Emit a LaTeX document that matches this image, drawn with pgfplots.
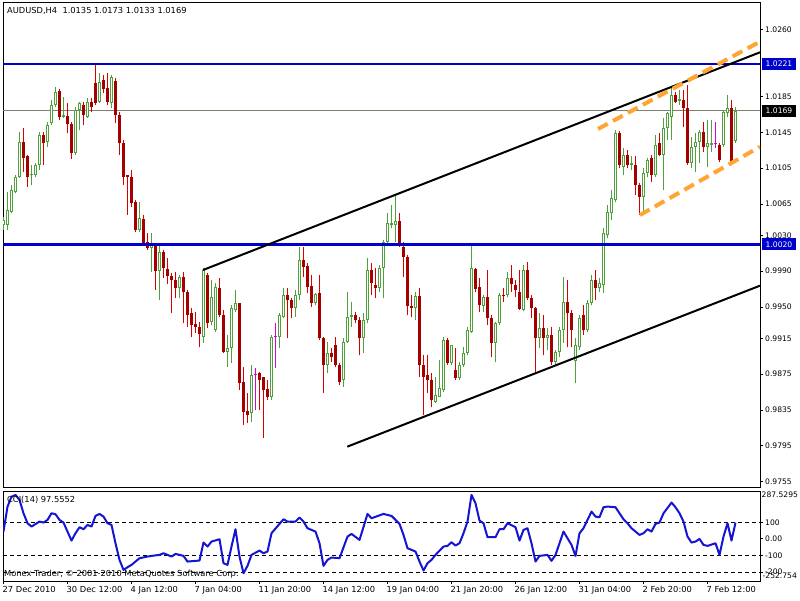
\documentclass[border=0pt]{standalone}
\usepackage{pgfplots}
\pgfplotsset{compat=1.18}
\usepackage{pgfplotstable}
\usepackage{fontspec}
\setmainfont{DejaVu Sans}

\definecolor{bullg}{RGB}{80,160,60}
\definecolor{bearw}{RGB}{215,0,0}
\definecolor{bearb}{RGB}{165,0,0}
\definecolor{dojim}{RGB}{220,0,220}
\definecolor{lvlblue}{RGB}{0,0,205}
\definecolor{bidgray}{RGB}{128,128,112}
\definecolor{chorange}{RGB}{255,165,50}
\definecolor{cciblue}{RGB}{20,20,210}

\newcommand{\pricefont}{\fontsize{7.6}{9}\selectfont}
\newcommand{\labfont}{\fontsize{8.3}{10}\selectfont}

% H4 bars, k = bar number (bars are 4 px apart), o h l c = open high low close
\pgfplotstableread{
k o h l c
0 1.0042 1.0050 1.0036 1.0047
1 1.0042 1.0078 1.0036 1.0058
2 1.0056 1.0086 1.0055 1.0081
3 1.0078 1.0097 1.0077 1.0095
4 1.0095 1.0145 1.0094 1.0134
7 1.0097 1.0109 1.0086 1.0098
8 1.0097 1.0111 1.0095 1.0109
9 1.0109 1.0145 1.0103 1.0142
11 1.0134 1.0157 1.0129 1.0153
12 1.0155 1.0181 1.0153 1.0176
13 1.0176 1.0196 1.0173 1.0190
15 1.0162 1.0184 1.0161 1.0164
18 1.0122 1.0173 1.0120 1.0170
19 1.0170 1.0179 1.0148 1.0178
21 1.0162 1.0183 1.0161 1.0179
24 1.0179 1.0211 1.0178 1.0201
27 1.0178 1.0209 1.0172 1.0207
34 1.0036 1.0067 1.0034 1.0049
37 1.0016 1.0033 0.9989 1.0021
39 0.9990 1.0019 0.9958 1.0011
44 0.9971 0.9986 0.9960 0.9983
50 0.9917 0.9994 0.9910 0.9991
52 0.9933 0.9980 0.9930 0.9961
53 0.9924 0.9977 0.9922 0.9972
56 0.9900 0.9919 0.9883 0.9904
57 0.9904 0.9952 0.9888 0.9949
58 0.9947 0.9969 0.9944 0.9955
62 0.9832 0.9885 0.9822 0.9874
67 0.9850 0.9919 0.9846 0.9917
69 0.9917 0.9943 0.9904 0.9941
70 0.9939 0.9971 0.9938 0.9963
73 0.9949 0.9969 0.9939 0.9963
74 0.9963 1.0017 0.9958 1.0002
78 0.9955 0.9966 0.9952 0.9965
81 0.9885 0.9911 0.9876 0.9899
85 0.9869 0.9915 0.9861 0.9911
86 0.9911 0.9967 0.9910 0.9939
87 0.9939 0.9956 0.9928 0.9941
90 0.9915 0.9943 0.9899 0.9936
91 0.9936 1.0005 0.9932 0.9991
94 0.9971 0.9997 0.9967 0.9994
95 0.9994 1.0025 0.9960 1.0023
96 1.0023 1.0055 1.0019 1.0044
97 1.0042 1.0064 1.0038 1.0044
98 1.0042 1.0075 1.0023 1.0046
103 0.9949 0.9967 0.9936 0.9962
108 0.9844 0.9872 0.9843 0.9852
109 0.9850 0.9891 0.9849 0.9860
110 0.9857 0.9917 0.9855 0.9913
112 0.9888 0.9908 0.9885 0.9908
114 0.9871 0.9889 0.9869 0.9885
115 0.9885 0.9905 0.9883 0.9899
116 0.9899 0.9928 0.9896 0.9924
117 0.9922 1.0021 0.9921 0.9994
120 0.9951 0.9963 0.9944 0.9961
123 0.9910 0.9933 0.9889 0.9932
124 0.9932 0.9966 0.9930 0.9963
126 0.9963 0.9989 0.9961 0.9982
130 0.9947 0.9997 0.9945 0.9991
134 0.9915 0.9943 0.9904 0.9926
136 0.9915 0.9926 0.9902 0.9919
138 0.9889 0.9902 0.9885 0.9900
139 0.9900 0.9928 0.9894 0.9924
140 0.9924 0.9983 0.9910 0.9956
143 0.9890 0.9915 0.9865 0.9908
144 0.9905 0.9941 0.9902 0.9938
146 0.9924 0.9958 0.9922 0.9955
147 0.9955 0.9986 0.9952 0.9980
149 0.9971 0.9982 0.9967 0.9977
150 0.9975 1.0038 0.9966 1.0033
151 1.0030 1.0064 1.0027 1.0056
152 1.0055 1.0081 1.0047 1.0072
153 1.0069 1.0148 1.0067 1.0144
155 1.0106 1.0128 1.0097 1.0120
157 1.0109 1.0118 1.0103 1.0111
160 1.0073 1.0105 1.0056 1.0100
161 1.0100 1.0116 1.0095 1.0114
163 1.0097 1.0142 1.0095 1.0131
165 1.0120 1.0161 1.0081 1.0150
166 1.0150 1.0168 1.0136 1.0167
167 1.0162 1.0194 1.0136 1.0187
169 1.0180 1.0192 1.0176 1.0182
172 1.0111 1.0140 1.0105 1.0129
173 1.0129 1.0144 1.0101 1.0134
174 1.0134 1.0148 1.0111 1.0145
176 1.0129 1.0159 1.0106 1.0133
177 1.0131 1.0159 1.0123 1.0133
180 1.0131 1.0170 1.0129 1.0168
181 1.0167 1.0187 1.0162 1.0172
183 1.0135 1.0173 1.0133 1.0169
}\bull

\pgfplotstableread{
k o h l c
5 1.0134 1.0150 1.0101 1.0116
6 1.0118 1.0120 1.0084 1.0095
10 1.0142 1.0145 1.0109 1.0133
14 1.0191 1.0193 1.0159 1.0162
16 1.0163 1.0178 1.0144 1.0154
17 1.0154 1.0157 1.0115 1.0122
20 1.0176 1.0179 1.0153 1.0164
22 1.0179 1.0183 1.0168 1.0173
23 1.0200 1.0221 1.0176 1.0178
25 1.0203 1.0209 1.0189 1.0193
26 1.0195 1.0211 1.0176 1.0179
28 1.0202 1.0206 1.0155 1.0164
29 1.0164 1.0168 1.0120 1.0133
30 1.0133 1.0136 1.0086 1.0095
31 1.0097 1.0097 1.0053 1.0095
32 1.0095 1.0103 1.0062 1.0066
33 1.0067 1.0069 1.0034 1.0036
35 1.0048 1.0053 1.0019 1.0021
36 1.0023 1.0033 1.0014 1.0016
38 1.0019 1.0021 0.9969 0.9990
40 1.0011 1.0014 0.9982 0.9994
41 0.9992 1.0005 0.9976 0.9985
42 0.9985 0.9988 0.9943 0.9980
43 0.9980 0.9989 0.9960 0.9971
45 0.9983 0.9989 0.9932 0.9967
46 0.9967 0.9969 0.9928 0.9941
47 0.9943 0.9949 0.9917 0.9930
48 0.9931 0.9944 0.9921 0.9928
49 0.9928 0.9933 0.9905 0.9920
51 0.9986 0.9988 0.9927 0.9932
54 0.9971 0.9982 0.9939 0.9941
55 0.9941 0.9947 0.9899 0.9900
59 0.9955 0.9955 0.9857 0.9865
60 0.9866 0.9883 0.9818 0.9833
61 0.9834 0.9854 0.9821 0.9829
64 0.9876 0.9877 0.9835 0.9869
65 0.9872 0.9872 0.9804 0.9857
66 0.9858 0.9869 0.9846 0.9850
71 0.9963 0.9971 0.9915 0.9958
72 0.9958 0.9960 0.9938 0.9949
75 1.0002 1.0017 0.9984 0.9995
76 0.9996 0.9999 0.9966 0.9972
77 0.9973 0.9986 0.9950 0.9955
79 0.9966 0.9986 0.9913 0.9915
80 0.9915 0.9917 0.9854 0.9885
82 0.9899 0.9904 0.9889 0.9894
83 0.9908 0.9917 0.9883 0.9885
84 0.9885 0.9888 0.9863 0.9866
88 0.9941 0.9944 0.9932 0.9936
89 0.9936 0.9939 0.9896 0.9915
92 0.9991 0.9999 0.9963 0.9977
93 0.9975 0.9994 0.9960 0.9971
99 1.0046 1.0055 1.0017 1.0019
100 1.0017 1.0023 0.9984 1.0006
101 1.0006 1.0008 0.9941 0.9951
102 0.9951 0.9963 0.9939 0.9949
104 0.9962 0.9971 0.9872 0.9885
105 0.9885 0.9896 0.9829 0.9872
106 0.9874 0.9896 0.9854 0.9869
107 0.9869 0.9876 0.9838 0.9846
111 0.9913 0.9915 0.9885 0.9888
113 0.9880 0.9904 0.9869 0.9871
118 0.9992 0.9994 0.9967 0.9970
119 0.9972 0.9982 0.9944 0.9952
121 0.9961 0.9991 0.9930 0.9938
122 0.9938 0.9941 0.9894 0.9910
125 0.9963 0.9971 0.9956 0.9962
127 0.9982 0.9997 0.9967 0.9976
128 0.9975 0.9980 0.9961 0.9969
129 0.9967 0.9991 0.9947 0.9948
131 0.9991 1.0000 0.9958 0.9960
132 0.9960 0.9963 0.9938 0.9949
133 0.9949 0.9950 0.9876 0.9915
135 0.9926 0.9941 0.9896 0.9915
137 0.9919 0.9928 0.9885 0.9889
141 0.9956 0.9980 0.9905 0.9943
142 0.9943 0.9947 0.9905 0.9924
145 0.9941 0.9952 0.9919 0.9924
148 0.9980 0.9991 0.9958 0.9971
154 1.0144 1.0146 1.0105 1.0109
156 1.0120 1.0125 1.0105 1.0109
158 1.0109 1.0118 1.0075 1.0086
159 1.0086 1.0088 1.0053 1.0073
162 1.0116 1.0120 1.0089 1.0097
164 1.0133 1.0144 1.0118 1.0120
168 1.0187 1.0190 1.0178 1.0179
170 1.0181 1.0192 1.0151 1.0172
171 1.0172 1.0198 1.0109 1.0111
175 1.0145 1.0157 1.0123 1.0129
179 1.0131 1.0133 1.0112 1.0114
182 1.0172 1.0181 1.0111 1.0112
}\bear

\pgfplotstableread{
k o h l c
63 0.9875 0.9882 0.9835 0.9875
68 0.9917 0.9932 0.9882 0.9917
178 1.0133 1.0157 1.0128 1.0133
}\doji

\pgfplotsset{
  nomark/.style={only marks, mark size=0pt, mark options={draw=none, fill=none}, forget plot},
  vbar/.style 2 args={nomark,
    error bars/y dir=plus, error bars/y explicit, error bars/error mark=none,
    error bars/error bar style={line width=#2, draw=#1, solid}},
}

\begin{document}
\begin{tikzpicture}
\fill[white, use as bounding box] (0,0) rectangle (800pt,600pt);

% ---------- price panel ----------
\begin{axis}[at={(3pt,113pt)}, anchor=south west,
  scale only axis, width=757pt, height=484pt,
  xmin=-0.125, xmax=189.125, ymin=0.974906, ymax=1.028936,
  axis line style={line width=1pt, black},
  xtick=\empty,
  ytick pos=right, yticklabel pos=right, tick align=outside,
  major tick length=3pt, tick style={black, line width=0.8pt},
  ytick={0.9755,0.9795,0.9835,0.9875,0.9915,0.9950,0.9990,1.0030,1.0065,1.0105,1.0145,1.0185,1.0260},
  yticklabels={0.9755,0.9795,0.9835,0.9875,0.9915,0.9950,0.9990,1.0030,1.0065,1.0105,1.0145,1.0185,1.0260},
  yticklabel style={font=\pricefont, inner sep=1pt, xshift=1pt},
  clip mode=individual,
]
% bid line
\addplot[bidgray, line width=1pt] coordinates {(-0.125,1.0169) (189.125,1.0169)};

% bull candles: wick, green body, white inside
\addplot[vbar={bullg}{1pt}] table[x=k, y=l, y error plus expr=\thisrow{h}-\thisrow{l}] {\bull};
\addplot[vbar={bullg}{3pt}] table[x=k, y=o, y error plus expr=\thisrow{c}-\thisrow{o}] {\bull};
\addplot[vbar={white}{1pt}] table[x=k, y expr=\thisrow{o}+0.000112, y error plus expr={max(0,\thisrow{c}-\thisrow{o}-0.000224)}] {\bull};

% bear candles
\addplot[vbar={bearw}{1pt}] table[x=k, y=l, y error plus expr=\thisrow{h}-\thisrow{l}] {\bear};
\addplot[vbar={bearb}{3pt}] table[x=k, y=c, y error plus expr=\thisrow{o}-\thisrow{c}] {\bear};

% doji
\addplot[vbar={dojim}{1pt}] table[x=k, y=l, y error plus expr=\thisrow{h}-\thisrow{l}] {\doji};
\addplot[nomark,
  error bars/x dir=both, error bars/x explicit, error bars/error mark=none,
  error bars/error bar style={line width=1pt, draw=dojim}]
  table[x=k, y=o, x error expr=0.4] {\doji};

% horizontal levels
\addplot[lvlblue, line width=2.5pt] coordinates {(-0.125,1.0221) (189.125,1.0221)};
\addplot[lvlblue, line width=2.5pt] coordinates {(-0.125,1.0020) (189.125,1.0020)};

% trend channel
\addplot[black, line width=2pt] coordinates {(49.875,0.99913) (189.125,1.02343)};
\addplot[black, line width=2pt] coordinates {(85.95,0.97941) (189.125,0.99738)};
\addplot[chorange, line width=4pt, dash pattern=on 11pt off 6pt] coordinates {(148.625,1.01487) (189.125,1.02462)};
\addplot[chorange, line width=4pt, dash pattern=on 11pt off 6pt] coordinates {(159.125,1.00527) (189.125,1.01289)};

% price boxes on the scale
\node[fill=lvlblue, text=white, anchor=west, inner xsep=4pt, inner ysep=0pt, minimum height=12pt, font=\pricefont, xshift=1.5pt]
  at (axis cs:189.125,1.0221) {1.0221};
\node[fill=lvlblue, text=white, anchor=west, inner xsep=4pt, inner ysep=0pt, minimum height=12pt, font=\pricefont, xshift=1.5pt]
  at (axis cs:189.125,1.0020) {1.0020};
\node[fill=black, text=white, anchor=west, inner xsep=4pt, inner ysep=0pt, minimum height=12pt, font=\pricefont, xshift=1.5pt]
  at (axis cs:189.125,1.0169) {1.0169};
\end{axis}

% ---------- CCI panel ----------
\begin{axis}[at={(3pt,19pt)}, anchor=south west,
  scale only axis, width=757pt, height=90pt,
  xmin=-0.125, xmax=189.125, ymin=-252.754, ymax=287.5295,
  axis line style={line width=1pt, black},
  xtick={0,16,32,48,64,80,96,112,128,144,160,176},
  xticklabels={27 Dec 2010,30 Dec 12:00,4 Jan 12:00,7 Jan 04:00,11 Jan 20:00,14 Jan 12:00,19 Jan 04:00,21 Jan 20:00,26 Jan 12:00,31 Jan 04:00,2 Feb 20:00,7 Feb 12:00},
  xtick pos=bottom, xticklabel pos=bottom,
  xticklabel style={font=\labfont, anchor=north west, xshift=-2pt, yshift=-1pt, inner sep=1pt},
  ytick pos=right, yticklabel pos=right, tick align=outside,
  major tick length=3pt, tick style={black, line width=0.8pt},
  ytick={-200,-100,0,100}, yticklabels={-200,-100,0.00,100},
  yticklabel style={font=\pricefont, inner sep=1pt, xshift=1pt},
  clip mode=individual,
]
\addplot[black, line width=0.8pt, dash pattern=on 4pt off 3pt] coordinates {(-0.125,100) (189.125,100)};
\addplot[black, line width=0.8pt, dash pattern=on 4pt off 3pt] coordinates {(-0.125,-100) (189.125,-100)};
\addplot[black, line width=0.8pt, dash pattern=on 4pt off 3pt] coordinates {(-0.125,-200) (189.125,-200)};

% CCI(14)
\addplot[cciblue, line width=2pt, line join=round] coordinates {
(0,44) (1,193) (2,253) (3,264) (4,234) (5,154) (6,94) (7,74) (9,104) (10,98)
(11,114) (12,154) (13,148) (14,114) (15,98) (17,-10) (18,34) (19,70) (20,58) (21,84)
(22,74) (23,138) (24,150) (25,134) (26,94) (27,84) (28,-26) (29,-126) (30,-186) (31,-170)
(32,-156) (33,-136) (34,-116) (36,-106) (37,-102) (39,-96) (40,-86) (42,-106) (43,-90) (45,-102)
(46,-136) (48,-132) (49,-130) (50,-22) (51,-46) (52,-16) (54,-2) (55,-146) (56,-156) (57,-46)
(58,58) (59,-106) (60,-206) (61,-162) (62,-96) (64,-70) (65,-86) (66,-76) (67,34) (70,118)
(71,104) (73,104) (74,128) (75,104) (76,64) (78,44) (79,-26) (80,-162) (81,-126) (82,-112)
(84,-116) (86,14) (87,30) (89,-6) (91,150) (92,124) (95,150) (97,138) (99,90) (100,24)
(101,-56) (103,-76) (104,-136) (105,-190) (106,-146) (107,-126) (108,-96) (110,-46) (111,-42) (112,-20)
(113,-40) (114,-26) (115,34) (116,104) (117,264) (118,214) (119,110) (120,94) (121,10) (123,10)
(124,58) (125,58) (126,94) (128,70) (129,-10) (130,54) (131,64) (132,-26) (133,-136) (134,-102)
(136,-96) (137,-132) (138,-96) (140,44) (141,4) (142,-36) (143,-102) (144,34) (145,64) (147,164)
(148,134) (149,130) (150,190) (151,194) (153,190) (155,118) (156,94) (157,64) (159,24) (160,34)
(161,58) (162,44) (163,90) (164,98) (165,154) (167,218) (168,190) (169,154) (170,104) (171,14)
(172,-22) (173,-16) (174,0) (175,-36) (176,-42) (178,-26) (179,-96) (180,14) (181,94) (182,-10)
(183,97.5552)
};

\node[anchor=west, inner sep=0pt, font=\pricefont, xshift=1.5pt, yshift=-4pt] at (axis cs:189.125,287.5295) {287.5295};
\node[anchor=west, inner sep=0pt, font=\pricefont, xshift=2.5pt, yshift=5pt] at (axis cs:189.125,-252.754) {-252.754};
\end{axis}

% texts
\node[anchor=west, inner sep=0pt, font=\labfont] at (7pt,589pt) {AUDUSD,H4\ \ 1.0135 1.0173 1.0133 1.0169};
\node[anchor=west, inner sep=0pt, font=\labfont] at (7pt,100pt) {CCI(14) 97.5552};
\node[anchor=west, inner sep=0pt, font=\labfont] at (4pt,26pt) {Monex Trader, © 2001-2010 MetaQuotes Software Corp.};
\end{tikzpicture}
\end{document}
